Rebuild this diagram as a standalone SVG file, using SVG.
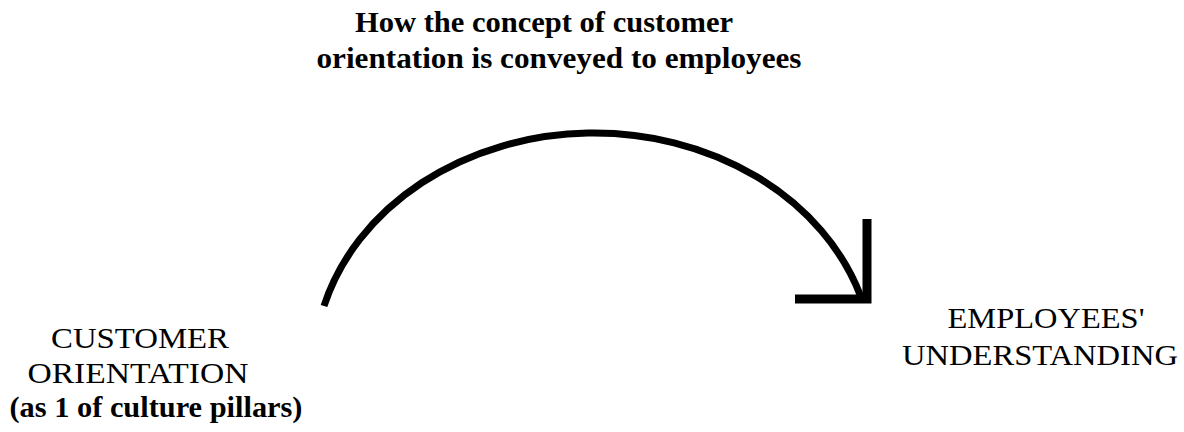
<svg xmlns="http://www.w3.org/2000/svg" width="1184" height="432" viewBox="0 0 1184 432">
<style>
.t{font-family:"Liberation Serif","Times New Roman",serif;fill:#000;text-anchor:middle}
.b{font-weight:bold;font-size:30px}
.n{font-size:29px}
.c{fill:none;stroke:#000}
</style>
<rect width="1184" height="432" fill="#fff"/>
<g id="title">
<text class="t b" x="544" y="32" textLength="378" lengthAdjust="spacingAndGlyphs">How the concept of customer</text>
<text class="t b" x="559" y="68" textLength="485" lengthAdjust="spacingAndGlyphs">orientation is conveyed to employees</text>
</g>
<g id="customer-orientation">
<text class="t n" x="140" y="348" textLength="178" lengthAdjust="spacingAndGlyphs">CUSTOMER</text>
<text class="t n" x="138" y="383" textLength="221" lengthAdjust="spacingAndGlyphs">ORIENTATION</text>
<text class="t b" x="156" y="417" textLength="293" lengthAdjust="spacingAndGlyphs">(as 1 of culture pillars)</text>
</g>
<g id="employees-understanding">
<text class="t n" x="1046" y="328" textLength="197" lengthAdjust="spacingAndGlyphs">EMPLOYEES'</text>
<text class="t n" x="1040" y="365" textLength="276" lengthAdjust="spacingAndGlyphs">UNDERSTANDING</text>
</g>
<g id="connectors">
<path class="c" stroke-width="7" d="M324,306 A280,235 0 0 1 860.6,296"/>
<path class="c" stroke-width="9" d="M867,219 V299 H795"/>
</g>
</svg>
